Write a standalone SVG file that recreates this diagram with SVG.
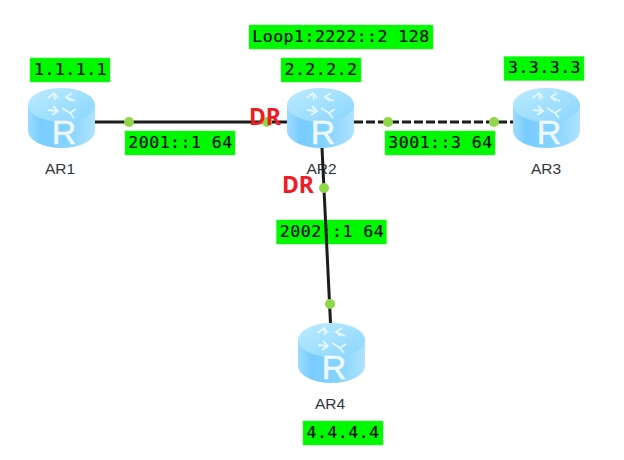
<svg xmlns="http://www.w3.org/2000/svg" width="624" height="460" viewBox="0 0 624 460">
<style>
.box{fill:#00f800;stroke:#33ff33;stroke-width:.5}
.lbl{font-family:"DejaVu Sans Mono","Liberation Mono",monospace;font-size:16.5px;letter-spacing:.5px;fill:#0c0c0c;stroke:#0c0c0c;stroke-width:.2;text-anchor:middle}
.name{font-family:"Liberation Sans",Arial,sans-serif;font-size:15.500px;fill:#33363c;text-anchor:middle}
.dr{font-family:"Noto Sans",sans-serif;font-weight:700;font-size:23px;fill:#ee1c25}
.link{stroke:#1c1c1c;stroke-width:3;fill:none}
.dot{fill:#8fd648}
.r{font-family:"Liberation Sans",Arial,sans-serif;font-size:34px;fill:#eefaff;stroke:#eefaff;stroke-width:.5;text-anchor:middle}
.arr{fill:none;stroke:#e4f7ff;stroke-width:1.8}
</style>
<defs>
<linearGradient id="side" x1="0" x2="1" y1="0" y2="0">
<stop offset="0" stop-color="#9ddcff"/><stop offset=".2" stop-color="#78ccff"/><stop offset=".6" stop-color="#86d3ff"/><stop offset="1" stop-color="#aee3ff"/>
</linearGradient>
<linearGradient id="top" x1="0" x2="1" y1="0" y2="1">
<stop offset="0" stop-color="#bcebff"/><stop offset="1" stop-color="#8ad5ff"/>
</linearGradient>
<g id="router">
<path d="M0 17V43A33.5 17 0 0 0 67 43V17Z" fill="url(#side)"/>
<ellipse cx="33.5" cy="17" rx="33.5" ry="17" fill="url(#top)"/>
<path class="arr" d="M20 10L26 5L30 10M26 5L27 12M44 5L38 9L43 13M38 9L47 13M24 27L30 23L25 18M30 23L20 22M48 21L42 25L46 30M42 25L34 20"/>
<text class="r" x="36" y="55.500">R</text>
</g>
</defs>
<rect width="624" height="460" fill="#fff"/>
<g id="label-loop1"><rect class="box" x="249" y="25" width="184" height="24"/><text class="lbl" x="341" y="41.500">Loop1:2222::2 128</text></g>
<g id="label-ar1-id"><rect class="box" x="30" y="58" width="80" height="24"/><text class="lbl" x="70.500" y="74.500">1.1.1.1</text></g>
<g id="label-ar2-id"><rect class="box" x="281" y="58" width="80" height="24"/><text class="lbl" x="321" y="74.500">2.2.2.2</text></g>
<g id="label-ar3-id"><rect class="box" x="504" y="56.500" width="80" height="24"/><text class="lbl" x="544.500" y="73">3.3.3.3</text></g>
<g id="label-ar4-id"><rect class="box" x="303" y="421" width="80" height="24"/><text class="lbl" x="343" y="437.500">4.4.4.4</text></g>
<g id="label-2001"><rect class="box" x="125" y="131" width="110" height="24"/><text class="lbl" x="180.500" y="147.500">2001::1 64</text></g>
<g id="label-3001"><rect class="box" x="385" y="131" width="110" height="24"/><text class="lbl" x="440.500" y="147.500">3001::3 64</text></g>
<g id="label-2002"><rect class="box" x="276.500" y="220" width="110" height="24"/><text class="lbl" x="332" y="236.500">2002::1 64</text></g>
<g id="AR1"><use href="#router" x="28" y="88"/><text class="name" x="60" y="174">AR1</text></g>
<g id="AR2"><use href="#router" x="287" y="88"/><text class="name" x="321.500" y="174">AR2</text></g>
<g id="AR3"><use href="#router" x="513" y="88"/><text class="name" x="546" y="174">AR3</text></g>
<g id="AR4"><use href="#router" x="298" y="323"/><text class="name" x="330" y="409">AR4</text></g>
<g id="connectors">
<line class="link" x1="95" y1="122" x2="287" y2="122"/>
<line class="link" x1="354" y1="122" x2="513" y2="122" stroke-dasharray="9 3"/>
<line class="link" x1="322" y1="148" x2="330.500" y2="323"/>
<circle class="dot" cx="129" cy="122" r="5"/>
<circle class="dot" cx="267" cy="122" r="5"/>
<circle class="dot" cx="388" cy="122" r="5"/>
<circle class="dot" cx="494" cy="122" r="5"/>
<circle class="dot" cx="324" cy="188" r="5"/>
<circle class="dot" cx="330" cy="304" r="5"/>
</g>
<g id="dr-marks">
<text class="dr" x="249" y="125">DR</text>
<text class="dr" x="282" y="193">DR</text>
</g>
</svg>
